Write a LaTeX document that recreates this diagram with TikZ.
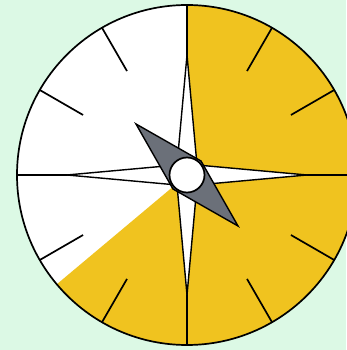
\documentclass[tikz,border=0pt]{standalone}
\usetikzlibrary{calc}
\definecolor{bgc}{HTML}{DCF9E5}
\definecolor{yel}{HTML}{F0C31F}
\definecolor{ndl}{HTML}{6B7079}
\begin{document}
\begin{tikzpicture}[x=1pt,y=1pt,
  rim/.style={draw=black,line width=1.7pt},
  tick/.style={draw=black,line width=1.7pt},
  starpt/.style={fill=white,draw=black,line width=1.4pt,line join=miter},
  needle/.style={fill=ndl,draw=black,line width=1.4pt,line join=miter},
  hub/.style={circle,fill=white,draw=black,line width=1.7pt,minimum size=35pt,inner sep=0pt}]
\fill[bgc] (0,0) rectangle (346,350);
\useasboundingbox (0,0) rectangle (346,350);
\coordinate (c) at (187,175);
\fill[white] (c) circle[radius=170];
\fill[yel] (c) -- ++(90:170) arc[start angle=90,end angle=-140,radius=170] -- cycle;
\foreach \a in {30,60,120,150,210,240,300,330}
  \draw[tick] ($(c)+(\a:120)$) -- ($(c)+(\a:170)$);
\draw[tick] ($(c)+(-170,0)$) -- ($(c)+(170,0)$);
\draw[tick] ($(c)+(0,-170)$) -- ($(c)+(0,170)$);
\draw[rim] (c) circle[radius=170];
\draw[starpt] ($(c)+(0,120)$) -- ($(c)+(10,10)$) -- ($(c)+(120,0)$) -- ($(c)+(10,-10)$) -- ($(c)+(0,-120)$) -- ($(c)+(-10,-10)$) -- ($(c)+(-120,0)$) -- ($(c)+(-10,10)$) -- cycle;
\draw[needle] ($(c)+(-51,51)$) -- ($(c)+(14,14)$) -- ($(c)+(51,-51)$) -- ($(c)+(-14,-14)$) -- cycle;
\node[hub] (h) at (c) {};
\end{tikzpicture}
\end{document}
